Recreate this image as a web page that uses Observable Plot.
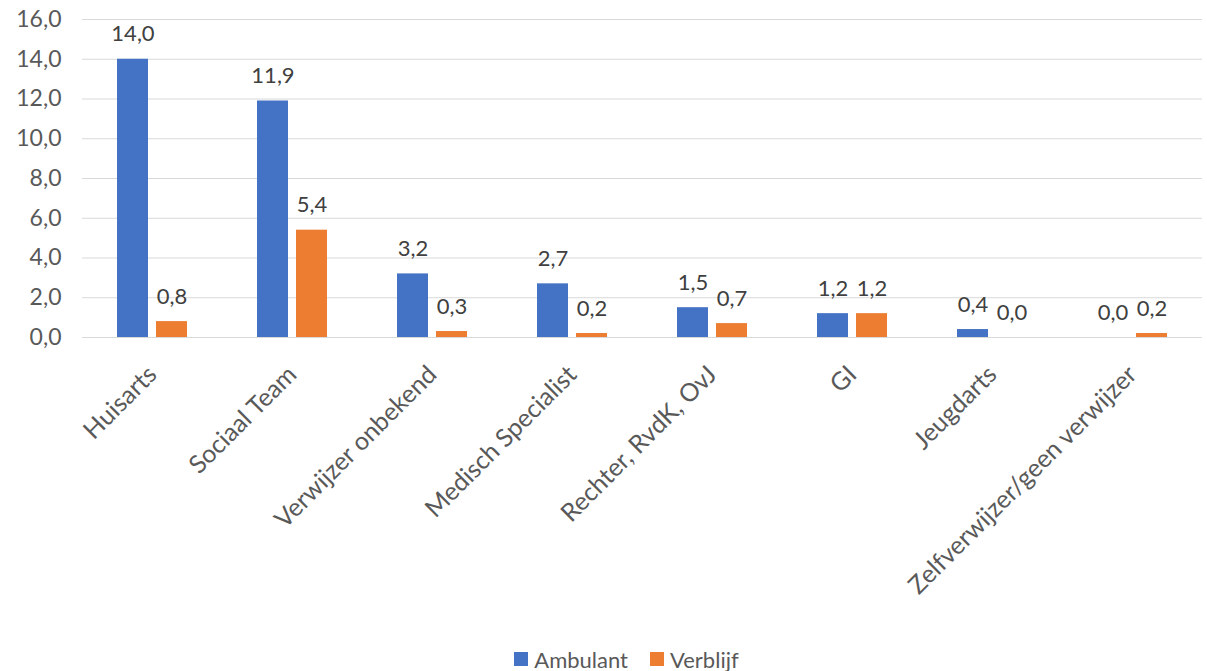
<!DOCTYPE html>
<html>
<head>
<meta charset="utf-8">
<script src="https://cdn.jsdelivr.net/npm/d3@7"></script>
<script src="https://cdn.jsdelivr.net/npm/@observablehq/plot@0.6"></script>
<style>
  html, body { margin: 0; padding: 0; background: #fff; }
  body { width: 1207px; height: 671px; overflow: hidden; font-family: Lato, "Open Sans", sans-serif; }
  #chart svg { display: block; }
  #legend { display: flex; justify-content: center; align-items: center; gap: 22px; height: 22px; margin-top: 18px; padding-left: 46px; font-size: 22px; color: #595959; }
  #legend span.sw { display: inline-block; width: 14px; height: 14px; margin-right: 6px; }
  #legend .item { display: flex; align-items: center; }
</style>
</head>
<body>
<div id="chart"></div>
<div id="legend"></div>
<script>
const categories = ["Huisarts", "Sociaal Team", "Verwijzer onbekend", "Medisch Specialist", "Rechter, RvdK, OvJ", "GI", "Jeugdarts", "Zelfverwijzer/geen verwijzer"];
const series = ["Ambulant", "Verblijf"];
const ambulant = [14.0, 11.9, 3.2, 2.7, 1.5, 1.2, 0.4, 0.0];
const verblijf = [0.8, 5.4, 0.3, 0.2, 0.7, 1.2, 0.0, 0.2];
const yTicks = [0, 2, 4, 6, 8, 10, 12, 14, 16];
const colors = ["#4472C4", "#ED7D31"];

const data = [];
categories.forEach((c, i) => {
  data.push({cat: c, series: "Ambulant", value: ambulant[i]});
  data.push({cat: c, series: "Verblijf", value: verblijf[i]});
});

const nl = d3.formatLocale({decimal: ",", thousands: ".", grouping: [3], currency: ["€", ""]});
const fmt = nl.format(".1f");

const chart = Plot.plot({
  width: 1207,
  height: 630,
  marginLeft: 78,
  marginRight: 2,
  marginTop: 19,
  marginBottom: 293,
  style: {fontFamily: "Lato, 'Open Sans', sans-serif", background: "#fff"},
  fx: {domain: categories, padding: 0, label: null},
  x: {domain: series, paddingInner: 0.2, paddingOuter: 0.857, axis: null},
  y: {domain: [0, 16], label: null},
  color: {domain: series, range: colors},
  marks: [
    Plot.ruleY(yTicks, {stroke: "#d9d9d9", strokeWidth: 1, facetAnchor: null}),
    Plot.axisY(yTicks, {tickFormat: fmt, tickSize: 0, tickPadding: 21, fontSize: 23, fill: "#595959", label: null}),
    Plot.axisFx({anchor: "bottom", tickRotate: -45, tickSize: 0, tickPadding: 33, dx: 0, fontSize: 25, fill: "#595959", label: null}),
    Plot.barY(data, {fx: "cat", x: "series", y: "value", fill: "series"}),
    Plot.text(data, {fx: "cat", x: "series", y: "value", text: d => fmt(d.value), lineAnchor: "bottom", dy: -18, fill: "#404040", fontSize: 22})
  ]
});
document.getElementById("chart").appendChild(chart);

const legend = document.getElementById("legend");
series.forEach((s, i) => {
  const item = document.createElement("div");
  item.className = "item";
  item.innerHTML = `<span class="sw" style="background:${colors[i]}"></span>${s}`;
  legend.appendChild(item);
});
</script>
</body>
</html>
